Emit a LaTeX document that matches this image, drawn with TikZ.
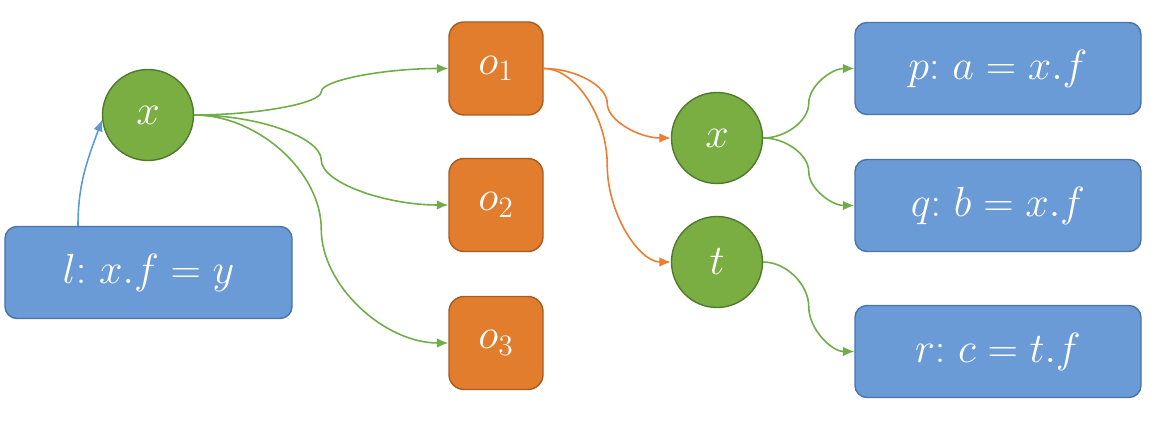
\RequirePackage{fix-cm}
\documentclass[tikz,border=0pt]{standalone}
\usetikzlibrary{arrows.meta,calc}
\definecolor{stmtfill}{HTML}{6A9BD6}
\definecolor{stmtline}{HTML}{4A74A6}
\definecolor{varfill}{HTML}{7AAD42}
\definecolor{varline}{HTML}{4F7A2C}
\definecolor{objfill}{HTML}{E37D2E}
\definecolor{objline}{HTML}{A95A1E}
\definecolor{bluearr}{HTML}{5B9BD5}
\definecolor{greenarr}{HTML}{70AD47}
\definecolor{orangearr}{HTML}{ED7D31}
\tikzset{>={Latex[length=6.5pt,width=5.5pt]}}

\begin{document}
\begin{tikzpicture}[
    every node/.style={text=white,font=\fontsize{24}{28}\selectfont,inner sep=0pt,line width=0.8pt},
    stmt/.style={draw=stmtline,fill=stmtfill,rounded corners=0.24cm,minimum width=5.72cm,minimum height=1.84cm},
    var/.style={circle,draw=varline,fill=varfill,minimum size=1.82cm},
    obj/.style={draw=objline,fill=objfill,rounded corners=0.3cm,minimum width=1.88cm,minimum height=1.86cm},
    flow/.style={->,line width=0.9pt},
    sconn/.style={to path={let \p1=(\tikztostart), \p2=(\tikztotarget) in % s-shaped connector
      .. controls ({0.75*\x1+0.25*\x2},\y1) and ({0.5*\x1+0.5*\x2},{0.75*\y1+0.25*\y2})
      .. ({0.5*\x1+0.5*\x2},{0.5*\y1+0.5*\y2})
      .. controls ({0.5*\x1+0.5*\x2},{0.25*\y1+0.75*\y2}) and ({0.25*\x1+0.75*\x2},\y2)
      .. (\tikztotarget)}}]
  \useasboundingbox (0,0) rectangle (23.4,-8.44); % picture frame
  % statements
  \node[stmt,minimum width=5.74cm] (l) at (2.97,-5.45) {$l{:}\ x.f = y$};
  \node[stmt] (p) at (19.96,-1.37) {$p{:}\ a = x.f$};
  \node[stmt] (q) at (19.96,-4.11) {$q{:}\ b = x.f$};
  \node[stmt] (r) at (19.96,-7.03) {$r{:}\ c = t.f$};
  % variables
  \node[var] (xa) at (2.96,-2.30) {$x$};
  \node[var] (xb) at (14.34,-2.76) {$x$};
  \node[var] (t) at (14.34,-5.24) {$t$};
  % objects
  \foreach \i/\y in {1/-1.37,2/-4.10,3/-6.86}{ % loop over abstract objects
    \node[obj] (o\i) at (9.92,\y) {$o_\i$};
    \draw[flow,greenarr] (xa.east) to[sconn] (o\i.west);
  }
  \draw[flow,bluearr] ([xshift=-1.41cm]l.north) to[out=90,in=-110] (xa.186);
  \draw[flow,orangearr] (o1.east) to[sconn] (xb.west);
  \draw[flow,orangearr] (o1.east) to[sconn] (t.west);
  \draw[flow,greenarr] (xb.east) to[sconn] (p.west);
  \draw[flow,greenarr] (xb.east) to[sconn] (q.west);
  \draw[flow,greenarr] (t.east) to[sconn] (r.west);
\end{tikzpicture}
\end{document}
